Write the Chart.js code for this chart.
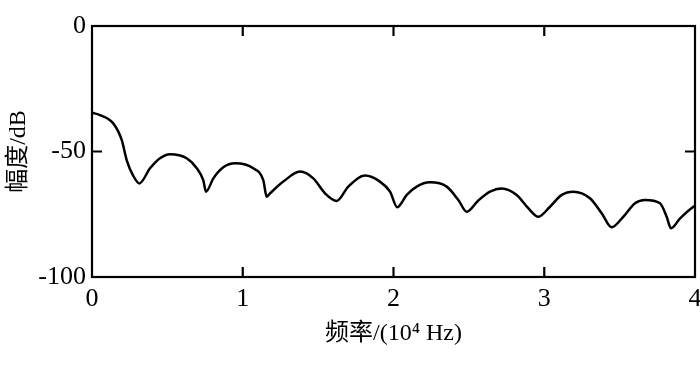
<!DOCTYPE html>
<html>
<head>
<meta charset="utf-8">
<script src="https://cdn.jsdelivr.net/npm/chart.js@4.4.1/dist/chart.umd.min.js"></script>
<style>
  html, body { margin: 0; padding: 0; background: #fff; }
  #wrap { width: 700px; height: 367px; }
</style>
</head>
<body>
<div id="wrap"><canvas id="chart" width="700" height="367"></canvas></div>
<script>
// frequency in 10^4 Hz
const freq = [
  0.000, 0.053, 0.141, 0.197, 0.230, 0.272, 0.314, 0.385, 0.451, 0.517,
  0.628, 0.695, 0.738, 0.756, 0.805, 0.871, 0.949, 1.070, 1.136, 1.159,
  1.181, 1.269, 1.380, 1.468, 1.546, 1.623, 1.700, 1.811, 1.910, 1.977,
  2.025, 2.088, 2.154, 2.242, 2.353, 2.430, 2.486, 2.561, 2.640, 2.718,
  2.817, 2.894, 2.961, 3.038, 3.116, 3.193, 3.303, 3.381, 3.447, 3.524,
  3.602, 3.668, 3.768, 3.812, 3.841, 3.901, 3.989, 4.000
];
// amplitude in dB
const amp = [
  -34.5, -35.5, -38.8, -45.4, -53.4, -59.5, -62.7, -56.7, -52.7, -51.1,
  -52.7, -56.7, -61.4, -66.0, -60.7, -56.3, -54.7, -56.7, -61.4, -68.0,
  -66.7, -62.0, -58.0, -60.7, -66.7, -69.7, -64.0, -59.6, -62.0, -66.0,
  -72.2, -67.3, -64.0, -62.3, -64.0, -69.3, -74.0, -69.6, -66.0, -64.7,
  -67.3, -72.6, -76.0, -72.0, -67.3, -66.0, -68.6, -74.6, -80.2, -76.0,
  -70.6, -69.3, -70.6, -76.0, -80.6, -76.6, -72.0, -71.6
];
const xTicks = [0, 1, 2, 3, 4];
const yTicks = [0, -50, -100];

const points = freq.map((f, i) => ({ x: f, y: amp[i] }));
const fontFamily = "'Liberation Serif', 'Noto Sans CJK SC', serif";

// box frame with inward ticks on all four sides
const framePlugin = {
  id: "frame",
  afterDraw(chart) {
    const { ctx, chartArea: a, scales } = chart;
    const len = 10;
    ctx.save();
    ctx.strokeStyle = "#000";
    ctx.lineWidth = 2.2;
    ctx.strokeRect(a.left, a.top, a.right - a.left, a.bottom - a.top);
    ctx.beginPath();
    xTicks.slice(1, -1).forEach(v => {
      const px = scales.x.getPixelForValue(v);
      ctx.moveTo(px, a.bottom); ctx.lineTo(px, a.bottom - len);
      ctx.moveTo(px, a.top); ctx.lineTo(px, a.top + len);
    });
    yTicks.slice(1, -1).forEach(v => {
      const py = scales.y.getPixelForValue(v);
      ctx.moveTo(a.left, py); ctx.lineTo(a.left + len, py);
      ctx.moveTo(a.right, py); ctx.lineTo(a.right - len, py);
    });
    ctx.stroke();
    ctx.restore();
  }
};

new Chart(document.getElementById("chart").getContext("2d"), {
  type: "line",
  data: {
    datasets: [{
      data: points,
      borderColor: "#000",
      borderWidth: 2.5,
      pointRadius: 0,
      fill: false,
      cubicInterpolationMode: "monotone"
    }]
  },
  options: {
    responsive: false,
    animation: false,
    layout: { padding: { left: 0, top: 26, right: 5, bottom: 0 } },
    plugins: { legend: { display: false }, tooltip: { enabled: false } },
    scales: {
      x: {
        type: "linear",
        min: 0,
        max: 4,
        afterBuildTicks: s => { s.ticks = xTicks.map(v => ({ value: v })); },
        afterFit: s => { s.height = 90; s.paddingLeft = 0; s.paddingRight = 0; },
        grid: { display: false, drawTicks: false },
        border: { display: false },
        ticks: {
          padding: 7,
          color: "#000",
          font: { family: fontFamily, size: 26 },
          maxRotation: 0,
          callback: v => String(v)
        },
        title: {
          display: true,
          text: "频率/(10⁴ Hz)",
          color: "#000",
          font: { family: fontFamily, size: 24 },
          padding: { top: 0, bottom: 19 }
        }
      },
      y: {
        min: -100,
        max: 0,
        afterBuildTicks: s => { s.ticks = yTicks.map(v => ({ value: v })); },
        afterFit: s => { s.width = 92; s.paddingTop = 0; s.paddingBottom = 0; },
        grid: { display: false, drawTicks: false },
        border: { display: false },
        ticks: {
          padding: 6,
          color: "#000",
          font: { family: fontFamily, size: 26 },
          callback: v => String(v)
        },
        title: {
          display: true,
          text: "幅度/dB",
          color: "#000",
          font: { family: fontFamily, size: 24 },
          padding: { top: 4, bottom: 0 }
        }
      }
    }
  },
  plugins: [framePlugin]
});
</script>
</body>
</html>
